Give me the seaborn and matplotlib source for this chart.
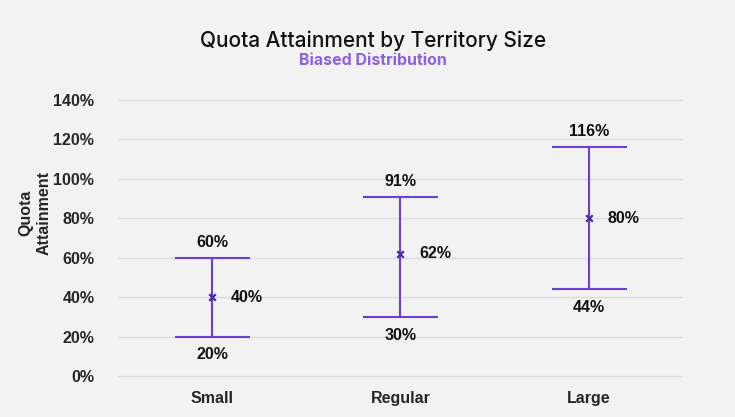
import matplotlib
matplotlib.use("Agg")
import matplotlib.pyplot as plt
import seaborn as sns
import pandas as pd
from matplotlib.ticker import FuncFormatter

# data
sizes = ["Small", "Regular", "Large"]
low = [20, 30, 44]
mean = [40, 62, 80]
high = [60, 91, 116]
yticks = [0, 20, 40, 60, 80, 100, 120, 140]

LINE = "#6a3fd9"
MARK = "#4a2aa0"
SUB = "#8a62e3"
BG = "#f2f2f2"

sns.set_theme(style="white")
plt.rcParams["font.family"] = ["Liberation Sans", "DejaVu Sans"]

df = pd.DataFrame({"size": sizes, "low": low, "mean": mean, "high": high})

fig = plt.figure(figsize=(7.35, 4.17), dpi=100, facecolor=BG)
ax = fig.add_axes([0.1605, 0.0889, 0.7687, 0.6807])
ax.set_facecolor(BG)

xs = list(range(len(sizes)))
err = [df["mean"] - df["low"], df["high"] - df["mean"]]
ax.errorbar(xs, df["mean"], yerr=err, fmt="none", ecolor=LINE,
            elinewidth=1.5, capsize=27, capthick=1.5, zorder=3)
sns.scatterplot(x=xs, y=df["mean"], marker="x", s=22, color=MARK,
                linewidth=1.6, ax=ax, zorder=4)

for x, lo, m, hi in zip(xs, low, mean, high):
    ax.text(x, hi + 4, f"{hi}%", ha="center", va="bottom",
            fontsize=11.5, fontweight="bold", color="#111111")
    ax.text(x, lo - 5.5, f"{lo}%", ha="center", va="top",
            fontsize=11.5, fontweight="bold", color="#111111")
    ax.text(x + 0.1, m, f"{m}%", ha="left", va="center",
            fontsize=11.5, fontweight="bold", color="#111111")

ax.set_xlim(-0.5, 2.5)
ax.set_ylim(-2, 142)
ax.set_xticks(xs)
ax.set_xticklabels(sizes, fontsize=11.5, fontweight="bold")
ax.set_yticks(yticks)
ax.yaxis.set_major_formatter(FuncFormatter(lambda v, p: f"{v:.0f}%"))
for lab in ax.get_yticklabels():
    lab.set_fontweight("bold")
    lab.set_fontsize(11.5)
ax.tick_params(axis="y", length=0, pad=17)
ax.tick_params(axis="x", length=0, pad=8)
ax.grid(axis="y", color="#dcdcdc", linewidth=1)
ax.set_axisbelow(True)
sns.despine(ax=ax, left=True, bottom=True)
ax.set_xlabel("")
ax.set_ylabel("")

fig.text(0.0476, 0.49, "Quota\nAttainment", rotation=90, ha="center",
         va="center", fontsize=11.5, fontweight="bold", linespacing=1.3)
fig.text(0.508, 0.902, "Quota Attainment by Territory Size", ha="center",
         va="center", fontsize=15, family=["Inter", "DejaVu Sans"],
         fontweight="medium", color="#111111")
fig.text(0.508, 0.855, "Biased Distribution", ha="center", va="center",
         fontsize=11.5, family=["Inter", "DejaVu Sans"],
         fontweight="bold", color=SUB)

fig.savefig("out.png", dpi=100, facecolor=BG)
